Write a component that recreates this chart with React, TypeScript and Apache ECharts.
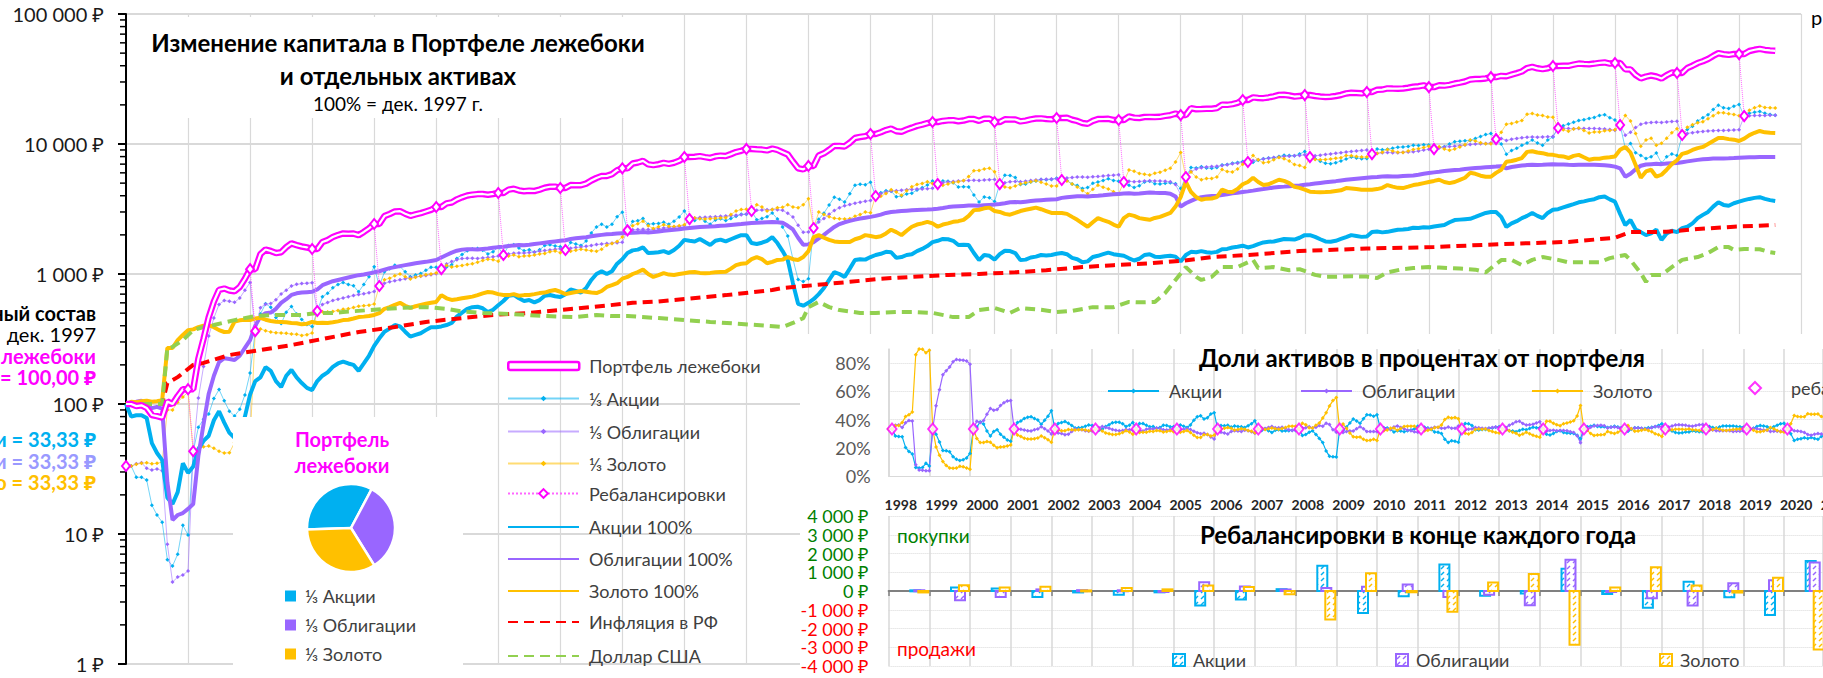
import React, { useEffect, useRef } from 'react';
import * as echarts from 'echarts';

const FONT = 'Lato, "Noto Sans", "DejaVu Sans", sans-serif';

const C_STOCK = '#00B0F0';
const C_BOND = '#9966FF';
const C_GOLD = '#FFC000';
const C_PINK = '#FF00FF';
const C_INFL = '#FF0000';
const C_USD = '#92D050';

// Monthly index values, index 0 = Dec 1997, 1 = Jan 1998 ... 319 = Jul 2024
const stocks100: number[] = [
  100,
  80, 82, 82, 78, 50, 42, 37, 19, 17, 21, 35, 29.5, // 1998
  33, 45, 52, 57, 75, 88, 72, 60, 55, 62, 80, 118, // 1999
  150, 160, 192, 180, 150, 135, 165, 183, 160, 145, 133, 128, // 2000
  150, 165, 175, 193, 205, 212, 205, 200, 180, 205, 235, 280, // 2001
  320, 360, 380, 405, 395, 360, 330, 340, 350, 370, 390, 390, // 2002
  395, 405, 420, 470, 505, 540, 556, 560, 545, 510, 530, 575, // 2003
  620, 680, 690, 650, 620, 630, 605, 630, 680, 690, 675, 665, // 2004
  700, 760, 740, 720, 780, 900, 1000, 1050, 1000, 1050, 1200, 1300, // 2005
  1450, 1520, 1540, 1600, 1450, 1460, 1470, 1500, 1450, 1530, 1650, 1830, // 2006
  1800, 1780, 1860, 1760, 1670, 1800, 1840, 1780, 1850, 1920, 1990, 1990, // 2007
  1730, 1700, 1740, 1800, 1920, 1730, 1500, 1280, 850, 590, 570, 600, // 2008
  640, 700, 780, 900, 1035, 1000, 950, 1100, 1280, 1300, 1290, 1350, // 2009
  1400, 1430, 1480, 1470, 1330, 1350, 1400, 1420, 1500, 1560, 1640, 1760, // 2010
  1800, 1860, 1850, 1800, 1670, 1680, 1670, 1450, 1280, 1400, 1380, 1290, // 2011
  1420, 1510, 1500, 1450, 1280, 1290, 1340, 1360, 1400, 1390, 1400, 1430, // 2012
  1450, 1420, 1330, 1300, 1230, 1250, 1350, 1380, 1420, 1460, 1420, 1400, // 2013
  1380, 1320, 1270, 1310, 1400, 1420, 1360, 1350, 1370, 1380, 1360, 1250, // 2014
  1400, 1480, 1470, 1500, 1470, 1460, 1480, 1550, 1560, 1600, 1620, 1650, // 2015
  1600, 1640, 1700, 1750, 1770, 1780, 1820, 1860, 1850, 1840, 1900, 1990, // 2016
  1990, 1930, 1850, 1780, 1770, 1800, 1860, 1920, 1990, 1960, 1930, 1940, // 2017
  2100, 2120, 2090, 2110, 2150, 2190, 2200, 2220, 2270, 2260, 2290, 2280, // 2018
  2320, 2350, 2380, 2500, 2600, 2620, 2640, 2660, 2750, 2850, 2950, 3000, // 2019
  3000, 2750, 2300, 2450, 2550, 2690, 2800, 2950, 2800, 2690, 2950, 3120, // 2020
  3150, 3250, 3350, 3450, 3560, 3620, 3700, 3760, 3900, 3950, 3750, 3600, // 2021
  2900, 2380, 2600, 2200, 2100, 1990, 2050, 2190, 1830, 2050, 2150, 2100, // 2022
  2250, 2310, 2450, 2690, 2850, 3000, 3300, 3560, 3400, 3350, 3500, 3600, // 2023
  3700, 3780, 3850, 3900, 3780, 3700, 3650, // 2024
];

const bonds100: number[] = [
  100,
  101, 104, 106, 96, 93, 95, 92, 25, 12.8, 14, 14.5, 15.6, // 1998
  17, 40, 70, 120, 165, 210, 225, 222, 218, 235, 270, 310, // 1999
  400, 470, 500, 505, 540, 600, 640, 690, 710, 720, 725, 730, // 2000
  760, 820, 850, 880, 900, 920, 940, 960, 980, 990, 1010, 1030, // 2001
  1050, 1080, 1110, 1130, 1150, 1170, 1190, 1210, 1225, 1240, 1260, 1280, // 2002
  1340, 1400, 1460, 1510, 1540, 1550, 1550, 1545, 1560, 1570, 1590, 1610, // 2003
  1620, 1640, 1660, 1670, 1665, 1680, 1700, 1720, 1740, 1760, 1780, 1800, // 2004
  1820, 1860, 1880, 1900, 1920, 1950, 1980, 2000, 2020, 2030, 2050, 2060, // 2005
  2070, 2080, 2090, 2100, 2090, 2100, 2120, 2150, 2170, 2190, 2210, 2240, // 2006
  2260, 2280, 2300, 2310, 2320, 2330, 2350, 2360, 2380, 2400, 2420, 2450, // 2007
  2470, 2480, 2490, 2500, 2510, 2500, 2480, 2350, 2200, 1900, 1680, 1690, // 2008
  1760, 1880, 2000, 2150, 2300, 2420, 2500, 2560, 2620, 2670, 2710, 2750, // 2009
  2800, 2860, 2950, 3000, 3020, 3050, 3070, 3090, 3110, 3120, 3130, 3150, // 2010
  3180, 3220, 3270, 3300, 3320, 3340, 3360, 3370, 3350, 3380, 3400, 3420, // 2011
  3450, 3500, 3560, 3580, 3560, 3600, 3640, 3680, 3700, 3720, 3740, 3760, // 2012
  3850, 3900, 3930, 3960, 3960, 3950, 3980, 4000, 4030, 4070, 4100, 4130, // 2013
  4160, 4180, 4150, 4170, 4200, 4230, 4210, 4200, 4190, 4150, 3950, 3300, // 2014
  3500, 3650, 3800, 3900, 3950, 3980, 4000, 4050, 4100, 4170, 4220, 4270, // 2015
  4320, 4380, 4450, 4500, 4560, 4620, 4670, 4700, 4740, 4780, 4800, 4850, // 2016
  4900, 4960, 5020, 5080, 5130, 5180, 5240, 5300, 5350, 5400, 5450, 5500, // 2017
  5550, 5580, 5620, 5650, 5630, 5620, 5680, 5700, 5720, 5800, 5900, 5980, // 2018
  6050, 6120, 6200, 6250, 6300, 6350, 6420, 6480, 6540, 6580, 6620, 6660, // 2019
  6700, 6750, 6500, 6650, 6750, 6820, 6880, 6920, 6900, 6920, 6950, 6980, // 2020
  6970, 6950, 6920, 6900, 6920, 6930, 6920, 6930, 6900, 6850, 6800, 6700, // 2021
  6500, 5600, 5900, 6400, 6800, 6950, 7000, 7050, 7000, 7080, 7120, 7150, // 2022
  7250, 7350, 7450, 7550, 7620, 7680, 7720, 7750, 7740, 7760, 7800, 7850, // 2023
  7880, 7900, 7920, 7930, 7940, 7950, 7950, // 2024
];

const gold100: number[] = [
  100,
  104, 103, 105, 106, 104, 105, 107, 270, 270, 310, 340, 370, // 1998
  375, 390, 400, 405, 390, 370, 358, 360, 430, 440, 445, 442, // 1999
  455, 460, 445, 435, 430, 428, 425, 420, 418, 410, 415, 428, // 2000
  420, 422, 420, 425, 432, 442, 445, 455, 466, 470, 475, 484, // 2001
  500, 540, 556, 580, 600, 570, 548, 565, 578, 590, 600, 610, // 2002
  688, 650, 632, 640, 650, 660, 670, 688, 710, 727, 720, 700, // 2003
  690, 688, 700, 680, 688, 690, 700, 713, 720, 740, 753, 730, // 2004
  700, 715, 727, 740, 730, 720, 713, 740, 795, 820, 850, 920, // 2005
  950, 1000, 1035, 1080, 1000, 950, 980, 1015, 990, 984, 1000, 1015, // 2006
  1030, 1035, 1020, 1015, 1020, 1030, 1035, 1040, 1100, 1170, 1200, 1210, // 2007
  1300, 1350, 1300, 1210, 1240, 1284, 1290, 1350, 1300, 1280, 1350, 1500, // 2008
  1920, 1990, 1900, 1830, 1780, 1765, 1760, 1765, 1850, 1900, 1990, 1960, // 2009
  1920, 1950, 2050, 2190, 2100, 1990, 2150, 2310, 2400, 2450, 2520, 2450, // 2010
  2310, 2400, 2450, 2520, 2550, 2610, 2800, 3100, 3120, 3200, 3240, 3050, // 2011
  3000, 2900, 2860, 2950, 3050, 3120, 3180, 3240, 3150, 3050, 2950, 2950, // 2012
  2950, 2900, 2750, 2610, 2450, 2310, 2500, 2690, 2600, 2520, 2400, 2310, // 2013
  2690, 2860, 2800, 2690, 2650, 2610, 2700, 2750, 2850, 2950, 3300, 3900, // 2014
  5100, 4270, 3900, 3725, 3800, 3810, 3900, 4450, 4300, 4270, 4500, 4900, // 2015
  5100, 5500, 5100, 4830, 4900, 5100, 5310, 5200, 5000, 4680, 4600, 4450, // 2016
  4300, 4270, 4250, 4270, 4300, 4350, 4400, 4580, 4550, 4500, 4450, 4450, // 2017
  4450, 4500, 4600, 4830, 4700, 4600, 4580, 4700, 4830, 4900, 5000, 5100, // 2018
  5200, 5310, 5100, 5000, 5100, 5300, 5500, 6000, 5900, 5700, 5600, 5600, // 2019
  6000, 6340, 7300, 7400, 7570, 7800, 8700, 8800, 8600, 8500, 8300, 8250, // 2020
  8100, 8020, 7800, 8100, 8250, 7900, 7570, 7700, 7700, 7850, 7900, 8020, // 2021
  9040, 9500, 8600, 6900, 5500, 6150, 6340, 5600, 5800, 6340, 7000, 7500, // 2022
  8400, 8600, 9000, 9300, 9500, 10000, 10550, 11100, 11100, 10900, 10800, 10550, // 2023
  11000, 11700, 12200, 12600, 12300, 12200, 12150, // 2024
];

// Portfolio value at each year end (rebalancing), Dec 1997 ... Dec 2023
const portfolioDec: number[] = [
  100, 130, 1090, 1557, 2425, 3275, 4200, 4590, 6500, 7940, 9160, 6780, 11940, 14760,
  14760, 15850, 15300, 16700, 21800, 23800, 25100, 27400, 32700, 39800, 42000, 35200, 49200,
];

// [month index, value]
const inflationPts: number[][] = [
  [0, 100], [7, 100], [8, 145], [10, 161], [13, 200], [15, 207], [20, 238], [26, 260], [32, 284],
  [39, 322], [45, 358], [52, 391], [58, 428], [65, 458], [71, 484], [78, 502], [84, 528], [90, 556],
  [98, 600], [103, 615], [116, 688], [125, 753], [127, 780], [133, 820], [140, 870], [146, 920],
  [152, 950], [159, 984], [165, 1000], [172, 1030], [178, 1070], [185, 1130], [191, 1170], [198, 1210],
  [204, 1260], [210, 1350], [217, 1400], [223, 1460], [227, 1500], [240, 1570], [253, 1610], [266, 1700],
  [279, 1765], [288, 1900], [291, 2100], [298, 2110], [304, 2220], [311, 2310], [319, 2380],
];

const usdPts: number[][] = [
  [0, 100], [7, 100], [8, 270], [9, 275], [11, 310], [13, 370], [15, 391], [17, 405], [21, 442], [25, 475],
  [29, 484], [34, 484], [37, 502], [40, 502], [42, 510], [47, 528], [53, 548], [58, 556], [62, 540],
  [65, 515], [69, 502], [74, 493], [81, 475], [87, 466], [91, 484], [94, 475], [97, 475], [103, 458],
  [113, 428], [122, 405], [127, 391], [129, 420], [131, 458], [132, 556], [134, 610], [136, 556],
  [138, 528], [142, 502], [145, 502], [149, 510], [152, 510], [156, 502], [160, 466], [163, 466],
  [165, 528], [168, 548], [171, 502], [173, 548], [177, 530], [180, 510], [183, 520], [187, 556],
  [191, 556], [194, 610], [196, 605], [199, 610], [201, 715], [203, 900], [205, 1130], [207, 950],
  [208, 900], [210, 950], [212, 1130], [215, 1130], [218, 1284], [219, 1110], [222, 1130], [225, 1070],
  [227, 1090], [230, 984], [232, 950], [237, 960], [240, 955], [242, 930], [244, 1030], [247, 1090],
  [249, 1110], [252, 1130], [254, 1120], [258, 1100], [261, 1080], [263, 1030], [266, 1280], [268, 1284],
  [270, 1170], [272, 1284], [274, 1350], [277, 1284], [279, 1230], [282, 1230], [285, 1230], [287, 1325],
  [290, 1400], [291, 1280], [293, 1015], [294, 870], [295, 984], [297, 984], [299, 1130], [301, 1284],
  [304, 1350], [306, 1450], [308, 1610], [310, 1610], [311, 1533], [313, 1560], [316, 1550], [318, 1470],
  [319, 1450],
];

// year labels of the share / rebalancing charts (each at its January)
const years: string[] = [
  '1998', '1999', '2000', '2001', '2002', '2003', '2004', '2005', '2006', '2007', '2008', '2009', '2010',
  '2011', '2012', '2013', '2014', '2015', '2016', '2017', '2018', '2019', '2020', '2021',
];

const assetNames = ['Акции', 'Облигации', 'Золото'];
const assetColors = [C_STOCK, C_BOND, C_GOLD];
const barFillsPlain = ['rgba(0,176,240,0.16)', 'rgba(153,102,255,0.16)', 'rgba(255,192,0,0.2)'];
const barOffsets = [[-20, -8], [-16, -4], [-12, 0]];

const SUB_MAX = 275.5; // visible month range of the two small charts
const SUB_PX = 3.392;

const rub = (v: number) => {
  const s = String(Math.abs(Math.round(v))).replace(/\B(?=(\d{3})+(?!\d))/g, ' ');
  return (v < 0 ? '-' : '') + s + ' ₽';
};

function makeHatch(color: string, fallback: string): any {
  try {
    const c = document.createElement('canvas');
    c.width = 6;
    c.height = 6;
    const ctx = c.getContext('2d');
    if (!ctx) return fallback;
    ctx.fillStyle = '#ffffff';
    ctx.fillRect(0, 0, 6, 6);
    ctx.strokeStyle = color;
    ctx.lineWidth = 1.4;
    ctx.beginPath();
    ctx.moveTo(1, 5);
    ctx.lineTo(4, 2);
    ctx.stroke();
    return { image: c, repeat: 'repeat', imageWidth: 6, imageHeight: 6 };
  } catch (e) {
    return fallback;
  }
}

function buildOption() {
  const assets = [stocks100, bonds100, gold100];
  const barFills = assetColors.map((c, i) => makeHatch(c, barFillsPlain[i]));
  const N = stocks100.length;
  const thirds: number[][] = [[], [], []];
  const portfolio: number[] = [];
  for (let m = 0; m < N; m++) {
    const k = m === 0 ? 0 : Math.floor((m - 1) / 12);
    const base = 12 * k;
    let sum = 0;
    for (let i = 0; i < 3; i++) {
      const v = m === 0 || m === base + 1
        ? portfolioDec[k] / 3
        : (portfolioDec[k] / 3) * assets[i][m] / assets[i][base];
      thirds[i].push(v);
      sum += v;
    }
    portfolio.push(m % 12 === 0 ? portfolioDec[m / 12] : sum);
  }
  const shares: number[][][] = [[], [], []];
  for (let m = 0; m < N; m++) {
    const s = thirds[0][m] + thirds[1][m] + thirds[2][m];
    for (let i = 0; i < 3; i++) shares[i].push([m, thirds[i][m] / s]);
  }
  const rebal: number[][][] = [[], [], []];
  for (let k = 1; k < portfolioDec.length; k++) {
    const m = 12 * k;
    const tot = thirds[0][m] + thirds[1][m] + thirds[2][m];
    for (let i = 0; i < 3; i++) rebal[i].push([m, tot / 3 - thirds[i][m]]);
  }
  const rebalLine: any[] = [[0, portfolioDec[0] / 3], [0.5, '-']];
  const shareDiamonds: number[][] = [];
  for (let k = 0; k < portfolioDec.length; k++) {
    if (k > 0) {
      rebalLine.push([12 * k, portfolioDec[k]]);
      rebalLine.push([12 * k + 1, portfolioDec[k] / 3]);
      rebalLine.push([12 * k + 1, '-']);
    }
    shareDiamonds.push([12 * k + 1, 1 / 3]);
  }

  const mainLine = (name: string, data: any[], color: string, width: number, z: number, type: any = 'solid') => ({
    type: 'line', name, data, xAxisIndex: 0, yAxisIndex: 0, symbol: 'none', silent: true, z,
    lineStyle: { color, width, type }, itemStyle: { color },
  });

  const series: any[] = [];
  for (let i = 0; i < 3; i++) {
    series.push({
      type: 'line', name: '⅓ ' + assetNames[i], xAxisIndex: 0, yAxisIndex: 0, silent: true,
      data: thirds[i].map((v, m) => [m, v]),
      symbol: 'diamond', symbolSize: 4, showSymbol: true,
      lineStyle: { color: assetColors[i], width: 1, opacity: 0.55 },
      itemStyle: { color: assetColors[i] }, z: 2,
    });
  }
  for (let i = 0; i < 3; i++) {
    series.push(mainLine(assetNames[i] + ' 100%', assets[i].map((v, m) => [m, v]), assetColors[i], 4, 3));
  }
  series.push(mainLine('Инфляция в РФ', inflationPts, C_INFL, 4, 3, [10, 6]));
  series.push(mainLine('Доллар США', usdPts, C_USD, 4, 3, [10, 6]));
  series.push(mainLine('Портфель лежебоки', portfolio.map((v, m) => [m, v]), C_PINK, 6.5, 4));
  series.push(mainLine('pinkInner', portfolio.map((v, m) => [m, v]), '#FFFFFF', 2.2, 4));
  series.push({
    type: 'line', name: 'Ребалансировки', xAxisIndex: 0, yAxisIndex: 0, silent: true,
    data: rebalLine, symbol: 'emptyDiamond', symbolSize: [8, 10], showSymbol: true, connectNulls: false,
    lineStyle: { color: '#FF66FF', width: 1, type: 'dotted' },
    itemStyle: { color: C_PINK, borderColor: C_PINK, borderWidth: 1.6 }, z: 5,
  });

  for (let i = 0; i < 3; i++) {
    series.push({
      type: 'line', name: assetNames[i], xAxisIndex: 1, yAxisIndex: 1, silent: true,
      data: shares[i], symbol: 'diamond', symbolSize: 4, showSymbol: true,
      lineStyle: { color: assetColors[i], width: 1.2 }, itemStyle: { color: assetColors[i] }, z: 52,
    });
  }
  series.push({
    type: 'scatter', name: 'ребалансировки', xAxisIndex: 1, yAxisIndex: 1, silent: true,
    data: shareDiamonds.filter((d) => d[0] <= SUB_MAX), symbol: 'emptyDiamond', symbolSize: [9, 11],
    itemStyle: { color: C_PINK, borderColor: C_PINK, borderWidth: 1.8 }, z: 53,
  });

  for (let i = 0; i < 3; i++) {
    const off = barOffsets[i];
    const color = assetColors[i];
    const fill = barFills[i];
    series.push({
      type: 'custom', name: 'rb_' + assetNames[i], xAxisIndex: 2, yAxisIndex: 2, silent: true, z: 52 + i,
      data: rebal[i].filter((d) => d[0] <= SUB_MAX + 1), encode: { x: 0, y: 1 }, clip: false,
      renderItem: (params: any, api: any) => {
        const p0 = api.coord([api.value(0), 0]);
        const p1 = api.coord([api.value(0), api.value(1)]);
        const x = p0[0] + off[0] + 1;
        const w = off[1] - off[0] - 2;
        return {
          type: 'rect',
          shape: { x, y: Math.min(p0[1], p1[1]), width: w, height: Math.max(1, Math.abs(p1[1] - p0[1])) },
          style: { fill, stroke: color, lineWidth: 2 },
        };
      },
    });
  }

  series.push({
    type: 'pie', center: [351, 528], radius: 44, startAngle: 182, clockwise: true, silent: true, z: 55,
    label: { show: false }, labelLine: { show: false },
    itemStyle: { borderColor: '#fff', borderWidth: 2.5 },
    data: [
      { value: 1, name: 'pie1', itemStyle: { color: C_STOCK } },
      { value: 1, name: 'pie2', itemStyle: { color: C_BOND } },
      { value: 1, name: 'pie3', itemStyle: { color: C_GOLD } },
    ],
  });

  const lgText = (pad = 5) => ({ fontSize: 18, color: '#404040', fontFamily: FONT, padding: [0, 0, 0, pad] });
  const lg = (data: any[], left: number, cy: number, iw: number, ih: number, pad = 5, extra: any = {}) => ({
    data, left, top: cy - ih / 2, itemWidth: iw, itemHeight: ih, itemGap: 0, padding: 0,
    selectedMode: false, orient: 'horizontal', textStyle: lgText(pad), z: 60, ...extra,
  });
  const plainLine = (name: string) => ({ name, itemStyle: { opacity: 0 } });

  const legends: any[] = [
    lg([{ name: 'Портфель лежебоки', icon: 'roundRect', itemStyle: { color: '#fff', borderColor: C_PINK, borderWidth: 2.5 } }], 507, 361, 71, 8),
    lg(['⅓ Акции'], 507, 393, 71, 7),
    lg(['⅓ Облигации'], 507, 426, 71, 7),
    lg(['⅓ Золото'], 507, 458, 71, 7),
    lg(['Ребалансировки'], 507, 490, 71, 11),
    lg([plainLine('Акции 100%')], 507, 522, 71, 8),
    lg([plainLine('Облигации 100%')], 507, 554, 71, 8),
    lg([plainLine('Золото 100%')], 507, 586, 71, 8),
    lg([plainLine('Инфляция в РФ')], 507, 617, 71, 8),
    lg([plainLine('Доллар США')], 507, 651, 71, 8),
    lg(['Акции'], 1107, 385, 51, 6),
    lg(['Облигации'], 1300, 385, 51, 6),
    lg(['Золото'], 1531, 385, 51, 6),
    lg(['ребалансировки'], 1748, 385, 12, 12, 25),
  ];
  const rbLefts = [1172, 1395, 1659];
  for (let i = 0; i < 3; i++) {
    legends.push(lg([{ name: 'rb_' + assetNames[i], icon: 'rect', itemStyle: { color: barFills[i], borderColor: assetColors[i], borderWidth: 2 } }],
      rbLefts[i], 657, 12, 12, 3, { formatter: (n: string) => n.slice(3) }));
  }

  const gridLineGrey = '#D9D9D9';
  const option: any = {
    animation: false,
    textStyle: { fontFamily: FONT },
    grid: [
      { left: 126, top: 14, width: 324 * 5.17, height: 650 },
      { left: 888.6, top: 349, width: SUB_MAX * SUB_PX, height: 127 },
      { left: 888.6, top: 516, width: SUB_MAX * SUB_PX, height: 150 },
    ],
    xAxis: [
      {
        gridIndex: 0, type: 'value', min: 0, max: 324, interval: 12,
        axisLabel: { show: false }, axisTick: { show: false }, axisLine: { show: false },
        splitLine: { show: true, lineStyle: { color: gridLineGrey, width: 1.2 } },
      },
      {
        gridIndex: 1, type: 'value', min: 0, max: SUB_MAX, interval: 12, z: 51,
        axisLabel: { show: false },
        axisTick: { show: false }, axisLine: { show: true, lineStyle: { color: gridLineGrey, width: 1 } },
        splitLine: { show: true, lineStyle: { color: gridLineGrey, width: 1.5 } },
      },
      {
        gridIndex: 2, type: 'value', min: 0, max: SUB_MAX, interval: 12, z: 51,
        axisLabel: { show: false },
        axisTick: { show: true, length: 5, lineStyle: { color: '#808080', width: 1.5 } },
        axisLine: { show: true, onZero: true, lineStyle: { color: '#808080', width: 2 } },
        splitLine: { show: true, lineStyle: { color: gridLineGrey, width: 1.5 } },
      },
    ],
    yAxis: [
      {
        gridIndex: 0, type: 'log', logBase: 10, min: 1, max: 100000,
        axisLine: { show: true, lineStyle: { color: '#000', width: 2 } },
        axisTick: { show: true, length: 8, lineStyle: { color: '#000', width: 2 } },
        axisLabel: { fontSize: 20, color: '#1a1a1a', margin: 22, fontFamily: FONT, formatter: (v: number) => rub(v) },
        splitLine: { show: true, lineStyle: { color: gridLineGrey, width: 2 } },
      },
      {
        gridIndex: 1, type: 'value', min: 0, max: 0.9, interval: 0.2, z: 51,
        axisLine: { show: true, lineStyle: { color: gridLineGrey, width: 1.5 } },
        axisTick: { show: false },
        axisLabel: {
          fontSize: 18, color: '#595959', margin: 18, fontFamily: FONT,
          formatter: (v: number) => { const p = Math.round(v * 100); return p % 20 === 0 ? p + '%' : ''; },
        },
        splitLine: {
          show: true,
          lineStyle: { color: [gridLineGrey, gridLineGrey, gridLineGrey, gridLineGrey, gridLineGrey, 'rgba(0,0,0,0)'], width: 1, type: 'dotted' },
        },
      },
      {
        gridIndex: 2, type: 'value', min: -4000, max: 4000, interval: 1000, z: 51,
        axisLine: { show: false }, axisTick: { show: false },
        axisLabel: {
          fontSize: 18, margin: 20, fontFamily: FONT, formatter: (v: number) => rub(v),
          color: (v: any) => (Number(v) < 0 ? '#FF0000' : '#008000'),
        },
        splitLine: { show: true, lineStyle: { color: gridLineGrey, width: 1, type: 'dotted' } },
      },
    ],
    legend: legends,
    series,
  };
  return option;
}

const txt = (text: string, x: number, y: number, size: number, fill: string, weight = 'normal', align = 'center', z = 3) => ({
  type: 'text', x, y, z, silent: true,
  style: { text, fill, fontSize: size, fontWeight: weight, fontFamily: FONT, align, verticalAlign: 'middle' },
});
const rect = (x: number, y: number, w: number, h: number, fill: string, z: number) => ({
  type: 'rect', shape: { x, y, width: w, height: h }, style: { fill }, z, silent: true,
});

function baseGraphics() {
  const g: any[] = [
    rect(130, 17, 530, 101, '#fff', 1),
    txt('Изменение капитала в Портфеле лежебоки', 398, 42, 24, '#000', 'bold'),
    txt('и отдельных активах', 398, 75, 24, '#000', 'bold'),
    txt('100% = дек. 1997 г.', 398, 103, 19, '#000'),
    txt('Начальный состав', 96, 313, 20, '#000', 'bold', 'right'),
    txt('дек. 1997', 96, 334, 20, '#000', 'normal', 'right'),
    txt('Портфель лежебоки', 96, 356, 20, C_PINK, 'bold', 'right'),
    txt('= 100,00 ₽', 96, 377, 20, C_PINK, 'bold', 'right'),
    txt('Акции = 33,33 ₽', 96, 439, 20, C_STOCK, 'bold', 'right'),
    txt('Облигации = 33,33 ₽', 96, 461, 20, '#9999FF', 'bold', 'right'),
    txt('Золото = 33,33 ₽', 96, 482, 20, C_GOLD, 'bold', 'right'),
    txt('р', 1811, 17, 20, '#000', 'normal', 'left'),
    rect(233, 417, 230, 261, '#fff', 50),
    txt('Портфель', 342, 439, 20, C_PINK, 'bold', 'center', 56),
    txt('лежебоки', 342, 465, 20, C_PINK, 'bold', 'center', 56),
    rect(800, 334, 1023, 344, '#fff', 50),
    txt('Доли активов в процентах от портфеля', 1422, 357, 24, '#000', 'bold', 'center', 56),
    txt('Ребалансировки в конце каждого года', 1418, 534, 24, '#000', 'bold', 'center', 56),
    txt('покупки', 897, 535, 19, '#008000', 'normal', 'left', 56),
    txt('продажи', 897, 648, 19, '#FF0000', 'normal', 'left', 56),
  ];
  const pieLegend = ['⅓ Акции', '⅓ Облигации', '⅓ Золото'];
  const pieY = [596, 625, 654];
  for (let i = 0; i < 3; i++) {
    g.push(rect(285, pieY[i] - 5.5, 11, 11, assetColors[i], 56));
    g.push(txt(pieLegend[i], 305, pieY[i], 18, '#404040', 'normal', 'left', 56));
  }
  return g;
}

export default function App() {
  const ref = useRef<HTMLDivElement>(null);
  useEffect(() => {
    if (!ref.current) return;
    const chart = echarts.init(ref.current, null, { renderer: 'svg' });
    chart.setOption(buildOption());
    const g = baseGraphics();
    for (let e = 0; e < 5; e++) {
      for (let d = 2; d <= 9; d++) {
        const y = chart.convertToPixel({ yAxisIndex: 0 } as any, d * Math.pow(10, e)) as any as number;
        g.push({ type: 'line', shape: { x1: 120, y1: y, x2: 126, y2: y }, style: { stroke: '#000', lineWidth: 1.5 }, z: 5, silent: true });
      }
    }
    for (let k = 0; k < years.length; k++) {
      const x = chart.convertToPixel({ xAxisIndex: 1 } as any, 12 * k) as any as number;
      g.push(txt(years[k], x - 4, 504, 14, '#262626', 'bold', 'left', 56));
    }
    chart.setOption({ graphic: { elements: g } });
    return () => chart.dispose();
  }, []);
  return (
    <div
      ref={ref}
      style={{ position: 'absolute', left: 0, top: 0, width: 1823, height: 678, background: '#fff' }}
    />
  );
}
